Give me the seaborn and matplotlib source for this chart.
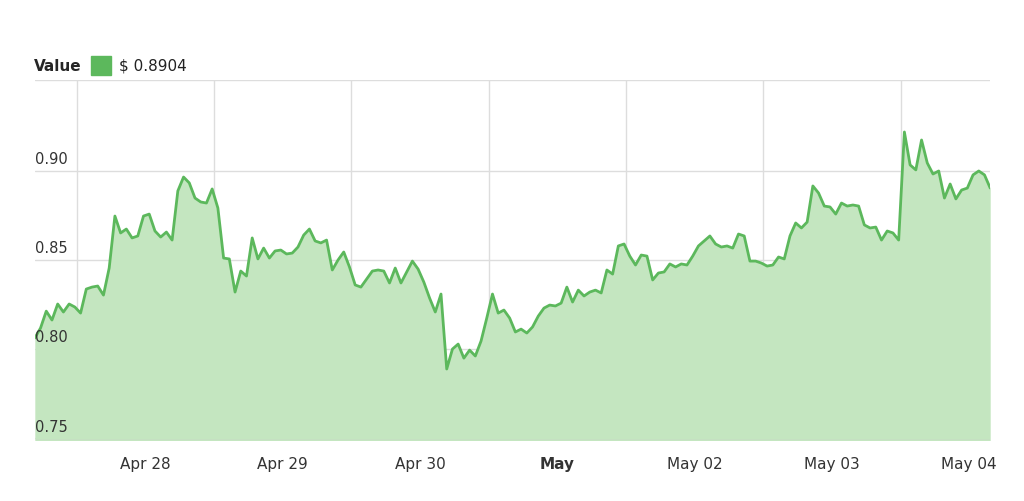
import matplotlib
matplotlib.use("Agg")
import matplotlib.pyplot as plt
import matplotlib.dates as mdates
import seaborn as sns
import pandas as pd
import numpy as np

values = [0.8062,0.8118,0.8213,0.8163,0.8253,0.8208,0.8253,0.8236,0.8202,0.8337,0.8348,0.8354,0.8303,0.8455,
0.8747,0.8652,0.8674,0.8624,0.8635,0.8747,0.8758,0.8663,0.8629,0.8657,0.8612,0.8888,0.8966,0.8933,0.8848,
0.8826,0.8820,0.8899,0.8792,0.8511,0.8506,0.8320,0.8438,0.8410,0.8624,0.8506,0.8567,0.8511,0.8551,0.8556,
0.8534,0.8539,0.8573,0.8640,0.8674,0.8607,0.8596,0.8612,0.8444,0.8500,0.8545,0.8461,0.8360,0.8348,0.8393,
0.8438,0.8444,0.8438,0.8371,0.8455,0.8371,0.8433,0.8494,0.8449,0.8376,0.8287,0.8208,0.8309,0.7888,0.8000,
0.8028,0.7949,0.7994,0.7961,0.8045,0.8174,0.8309,0.8202,0.8219,0.8174,0.8096,0.8112,0.8090,0.8124,0.8185,
0.8230,0.8247,0.8242,0.8258,0.8348,0.8264,0.8331,0.8298,0.8320,0.8331,0.8315,0.8444,0.8421,0.8579,0.8590,
0.8522,0.8472,0.8528,0.8522,0.8388,0.8427,0.8433,0.8478,0.8461,0.8478,0.8472,0.8522,0.8579,0.8607,0.8635,
0.8590,0.8573,0.8579,0.8567,0.8646,0.8635,0.8494,0.8494,0.8483,0.8466,0.8472,0.8517,0.8506,0.8635,0.8708,
0.8680,0.8713,0.8916,0.8876,0.8803,0.8798,0.8758,0.8820,0.8803,0.8809,0.8803,0.8697,0.8680,0.8685,0.8612,
0.8663,0.8652,0.8612,0.9219,0.9034,0.9006,0.9174,0.9045,0.8983,0.9000,0.8848,0.8927,0.8843,0.8893,0.8904,
0.8978,0.9000,0.8978,0.8904]
start = "2019-04-27 04:40"
legend_label = "Value"
legend_value = "$ 0.8904"
y_ticks = [0.75, 0.80, 0.85, 0.90]
x_tick_dates = ["2019-04-28","2019-04-29","2019-04-30","2019-05-01","2019-05-02","2019-05-03","2019-05-04"]
x_tick_labels = ["Apr 28","Apr 29","Apr 30","May","May 02","May 03","May 04"]

times = pd.date_range(start, periods=len(values), freq="h")
df = pd.DataFrame({"t": times, "v": values})

sns.set_style("white")
fig = plt.figure(figsize=(10.24, 5.01), dpi=100)
ax = fig.add_axes([0.034, 0.122, 0.933, 0.718])
line_c = "#5cb85c"
ax.fill_between(df["t"], df["v"], 0.7, color="#c4e6c0", lw=0)
sns.lineplot(data=df, x="t", y="v", ax=ax, color=line_c, lw=2)
ax.set_xlim(times[0], times[-1])
ax.set_ylim(0.749, 0.951)
ax.set_xlabel(""); ax.set_ylabel("")
for s in ax.spines.values():
    s.set_visible(False)
for y in y_ticks + [0.951]:
    ax.axhline(y, color="#dddddd", lw=1, zorder=0)
    if y in y_ticks:
        ax.text(times[0], y + 0.002, f"{y:.2f}  ", fontsize=10.5, color="#333333", ha="left", va="bottom")
ax.axhline(0.749, color="#cccccc", lw=1)
noon = pd.date_range("2019-04-27 12:00", periods=8, freq="D")
for n in noon:
    if times[0] < n < times[-1]:
        ax.axvline(n, color="#dddddd", lw=1, zorder=0)
ax.set_yticks([])
ax.set_xticks(pd.to_datetime(x_tick_dates))
ax.set_xticklabels(x_tick_labels, fontsize=11, color="#333333")
ax.get_xticklabels()[3].set_fontweight("bold")
ax.tick_params(axis="x", length=0, pad=12)
fig.text(0.033, 0.868, legend_label, fontsize=11, fontweight="bold", va="center")
fig.patches.append(plt.Rectangle((0.089, 0.850), 0.019, 0.038, color=line_c, transform=fig.transFigure))
fig.text(0.116, 0.868, legend_value, fontsize=11, va="center", color="#222222")
fig.savefig("out.png", dpi=100)
